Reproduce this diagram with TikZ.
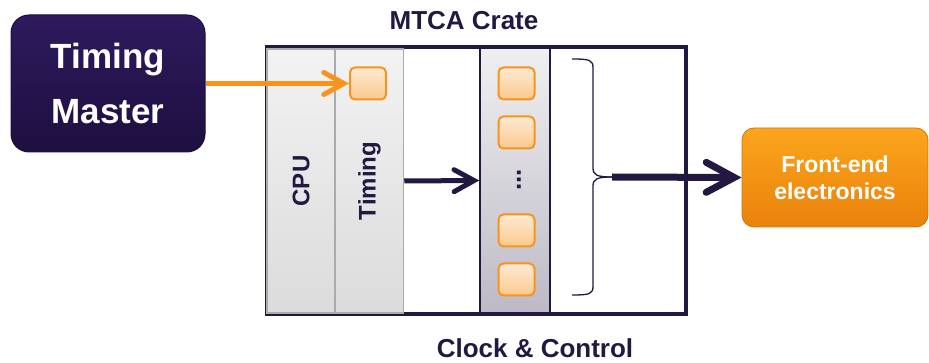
\documentclass[tikz,border=0pt]{standalone}
\usepackage{fontspec}
\setmainfont{Liberation Sans}
\usepackage{tikz}
\usetikzlibrary{arrows.meta, positioning}

\definecolor{mtcapurple}{HTML}{231842}
\definecolor{mtcaorange}{HTML}{F7941D}
\definecolor{mastertop}{HTML}{2E1A5E}
\definecolor{masterbot}{HTML}{1E0F3F}
\definecolor{fetop}{HTML}{FBA51C}
\definecolor{febot}{HTML}{EA820C}

\begin{document}
\begin{tikzpicture}[x=1pt, y=-1pt,
    master/.style={rounded corners=18pt, top color=mastertop, bottom color=masterbot, draw=masterbot, line width=1pt, minimum width=194pt, minimum height=137pt, align=center, text=white, font=\bfseries\fontsize{35}{55}\selectfont},
    frontend/.style={rounded corners=12pt, top color=fetop, bottom color=febot, draw=febot!90!black, line width=0.8pt, minimum width=186pt, minimum height=99pt, align=center, text=white, font=\bfseries\fontsize{23}{27}\selectfont},
    crate/.style={draw=mtcapurple, line width=4pt, minimum width=419pt, minimum height=267pt, inner sep=0pt},
    card/.style={draw=black!33, line width=1.5pt, top color=black!5, bottom color=black!14, minimum width=68pt, minimum height=264pt, inner sep=0pt},
    cccard/.style={draw=mtcapurple, line width=1.5pt, top color=black!6, bottom color=mtcapurple!30, minimum width=70pt, minimum height=265pt, inner sep=0pt},
    module/.style={draw=mtcaorange, line width=2pt, rounded corners=5pt, top color=mtcaorange!20, bottom color=mtcaorange!50, minimum width=36pt, minimum height=32pt, inner sep=0pt},
    cardtext/.style={rotate=90, text=mtcapurple, font=\bfseries\fontsize{24}{28}\selectfont},
    title/.style={text=mtcapurple, font=\bfseries\fontsize{26}{30}\selectfont},
    arrow/.style={-{Straight Barb[length=20pt, width=22pt, line cap=round]}, line width=5pt, draw=mtcapurple}
]
    \useasboundingbox (0,0) rectangle (929,363);

    \node[master] (master) at (108, 83.5) {Timing\\Master};
    \node[frontend] (fe) at (835, 177.5) {Front-end\\electronics};

    % crate with its cards
    \node[crate] (crate) at (476.5, 180.5) {};
    \node[card] (cpu) at (301, 181) {};
    \node[card] (timing) at (369.5, 181) {};
    \node[cccard] (clock) at (515, 180.5) {};
    \node[cardtext] at (cpu.center) {CPU};
    \node[cardtext] at (timing.center) {Timing};

    \node[module] (tmod) at (368, 83.5) {};
    \node[module] (m1) at (516.5, 83.5) {};
    \node[module] (m2) at (516.5, 132.5) {};
    \node[module] (m3) at (516.5, 230.5) {};
    \node[module] (m4) at (516.5, 279.5) {};
    \node[rotate=90, text=mtcapurple, font=\bfseries\fontsize{26}{30}\selectfont] (dots) at (519, 180) {...};

    \node[title] (cratetitle) at (464, 21) {MTCA Crate};
    \node[title] (cctitle) at (535, 348) {Clock \& Control};

    % brace over the slots
    \coordinate (bracetip) at (612, 177);
    \draw[mtcapurple, line width=1.3pt]
        (572, 59) .. controls (590, 59) and (593, 60) .. (593, 68) -- (593, 168)
        .. controls (593, 175) and (597, 177) .. (bracetip);
    \draw[mtcapurple, line width=1.3pt]
        (572, 295) .. controls (590, 295) and (593, 294) .. (593, 286) -- (593, 186)
        .. controls (593, 179) and (597, 177) .. (bracetip);

    \draw[arrow, draw=mtcaorange] (master.east |- tmod) -- (tmod.west);
    \draw[arrow] (timing.east) -- (clock.west);
    \draw[arrow, line width=7pt, -{Straight Barb[length=28pt, width=30pt, line cap=round]}] (bracetip) -- (fe.west);
\end{tikzpicture}
\end{document}
